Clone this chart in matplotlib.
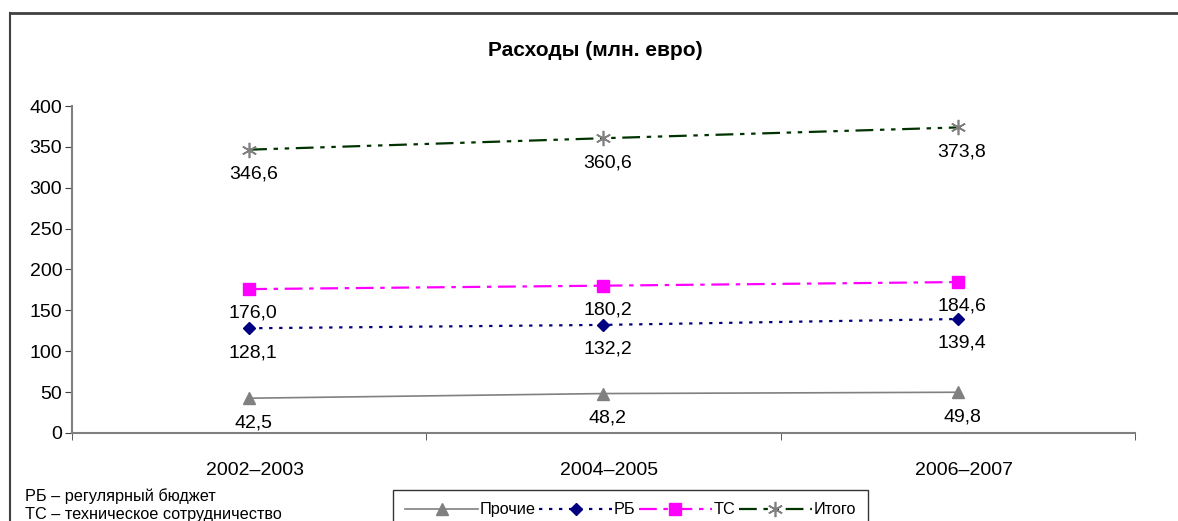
import matplotlib
matplotlib.use('Agg')
from matplotlib import pyplot as plt
from matplotlib.lines import Line2D
import matplotlib.transforms as mtransforms

plt.rcParams['font.family'] = ['Liberation Sans', 'DejaVu Sans']

periods = ['2002–2003', '2004–2005', '2006–2007']
prochie = [42.5, 48.2, 49.8]
rb = [128.1, 132.2, 139.4]
tc = [176.0, 180.2, 184.6]
itogo = [346.6, 360.6, 373.8]

fig = plt.figure(figsize=(11.78, 5.21), dpi=100)
ax = fig.add_axes([0.0611, 0.169, 0.9024, 0.6275])
x = list(range(len(periods)))

ax.plot(x, prochie, color='#808080', lw=1.2, marker='^', ms=9,
        mfc='#808080', mec='#808080', label='Прочие')
ax.plot(x, rb, color='#000080', lw=1.6, ls=(0, (1.5, 3)), marker='D', ms=6.5,
        mfc='#000080', mec='#000080', label='РБ')
ax.plot(x, tc, color='#ff00ff', lw=1.6, ls=(0, (8, 3, 2, 3)), marker='s', ms=8,
        mfc='#ff00ff', mec='#ff00ff', label='ТС')
ax.plot(x, itogo, color='#003300', lw=1.6, ls=(0, (8, 3, 2, 3, 2, 3)),
        marker=(6, 2, 0), ms=11, mec='#808080', mew=1.2, label='Итого')

for series in (prochie, rb, tc, itogo):
    for xi, v in zip(x, series):
        ax.annotate(('%.1f' % v).replace('.', ','), (xi, v), xytext=(3, -17.5),
                    textcoords='offset points', ha='center', va='center',
                    fontsize=14)

ax.set_xlim(-0.5, 2.5)
ax.set_ylim(0, 400)
ax.set_yticks(range(0, 401, 50))
ax.set_xticks(x)
ax.set_xticklabels(periods)
ax.set_xticks([-0.5, 0.5, 1.5, 2.5], minor=True)
ax.tick_params(axis='x', which='major', length=0, pad=21, labelsize=14)
ax.tick_params(axis='x', which='minor', length=5, direction='out', color='#404040')
ax.tick_params(axis='y', length=5, direction='out', color='#404040', labelsize=14, pad=2)
shift = mtransforms.ScaledTranslation(6 / 100, 0, fig.dpi_scale_trans)
for lbl in ax.get_xticklabels():
    lbl.set_transform(lbl.get_transform() + shift)
for s in ('top', 'right'):
    ax.spines[s].set_visible(False)
for s in ('left', 'bottom'):
    ax.spines[s].set_color('#808080')
    ax.spines[s].set_linewidth(1.5)

fig.text(0.505, 0.903, 'Расходы (млн. евро)', ha='center', va='center',
         fontsize=15, fontweight='bold')

fig.text(25 / 1178, 1 - 496 / 521, 'РБ – регулярный бюджет', fontsize=11.7,
         va='center')
fig.text(25 / 1178, 1 - 515 / 521, 'ТС – техническое сотрудничество', fontsize=11.7,
         va='center')

leg = fig.legend(loc='upper left', bbox_to_anchor=(393 / 1178, 1 - 490 / 521),
                 ncol=4, fontsize=11.7, frameon=True, fancybox=False,
                 edgecolor='black', handlelength=4.5, handletextpad=0.1,
                 columnspacing=0.2, borderpad=0.75, borderaxespad=0)
leg.get_frame().set_linewidth(1.0)

fig.add_artist(Line2D([10 / 1178, 1], [1 - 13 / 521] * 2, color='#404040', lw=2,
                      transform=fig.transFigure))
fig.add_artist(Line2D([10 / 1178] * 2, [0, 1 - 13 / 521], color='#404040', lw=1.5,
                      transform=fig.transFigure))

fig.savefig('out.png', dpi=100)
